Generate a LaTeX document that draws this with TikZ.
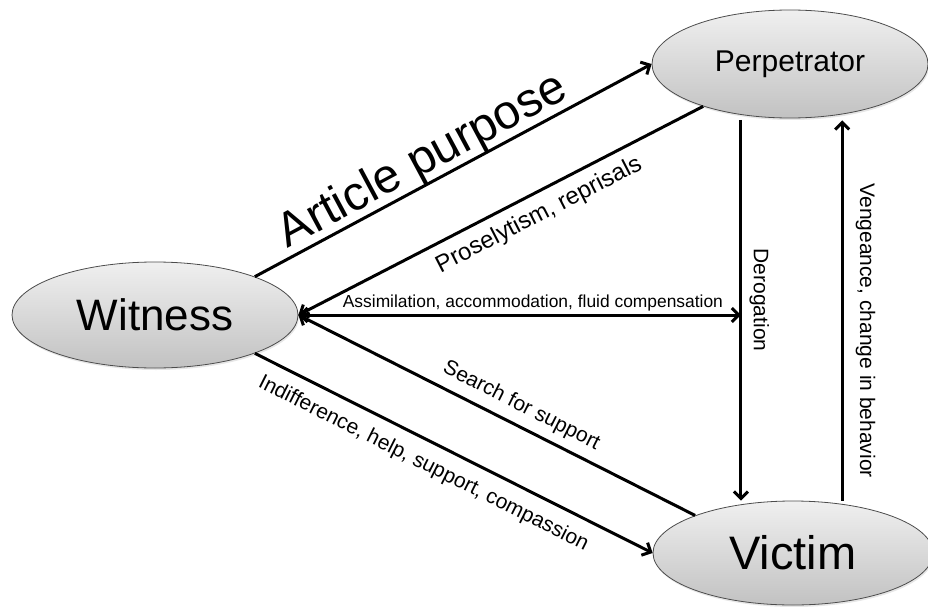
\documentclass[tikz,border=0pt]{standalone}
\usepackage{fontspec}
\setmainfont{Liberation Sans}
\usetikzlibrary{shapes.geometric, arrows.meta, shadows}

\begin{document}
\begin{tikzpicture}[x=1pt, y=-1pt, >={Straight Barb[length=7pt, width=14pt]},
        actor/.style={ellipse, draw=black!70, line width=0.8pt, inner sep=0pt,
            top color=black!6, bottom color=black!24,
            drop shadow={opacity=0.2, shadow xshift=1pt, shadow yshift=-2pt}},
        rel/.style={line width=3pt},
        lbl/.style={font=\fontsize{21}{25}\selectfont}]
        \useasboundingbox (0,0) rectangle (928,607);

        \node [actor, minimum width=286pt, minimum height=106pt] (wit) at (155,315) {\fontsize{44}{50}\selectfont Witness};
        \node [actor, minimum width=276pt, minimum height=108pt] (perp) at (790,64) {\fontsize{30}{36}\selectfont Perpetrator};
        \node [actor, minimum width=280pt, minimum height=104pt] (vic) at (793,553) {\fontsize{47}{54}\selectfont Victim};

        \draw [rel, ->] (wit.21) -- (perp.west) node [sloped, above, pos=0.45, inner sep=8pt, text depth=0pt, font=\fontsize{48}{54}\selectfont] {Article purpose};
        \draw [rel, ->] (perp.206) -- (wit.east) node [sloped, below, pos=0.43, inner sep=9pt, font=\fontsize{24}{28}\selectfont] {Proselytism, reprisals};
        \draw [rel, <->] (wit.east) -- (wit.east -| perp.226) node [sloped, above, pos=0.53, inner sep=2pt, font=\fontsize{17.4}{20}\selectfont] {Assimilation, accommodation, fluid compensation};
        \draw [rel, ->] (vic.159) -- (wit.east) node [lbl, sloped, above, pos=0.46, inner sep=8pt] {Search for support};
        \draw [rel, ->] (wit.-21) -- (vic.west) node [lbl, sloped, below, pos=0.45, inner sep=12pt] {Indifference, help, support, compassion};

        \draw [rel, ->, shorten <=5pt] (perp.226) -- (perp.226 |- vic.north) node [lbl, pos=0.48, rotate=-90, anchor=south, inner sep=7pt] {Derogation};
        \draw [rel, ->, shorten >=6pt] (perp.-44 |- vic.north) -- (perp.-44) node [lbl, pos=0.44, rotate=-90, anchor=south, inner sep=12pt] {Vengeance, change in behavior};
    \end{tikzpicture}
\end{document}
